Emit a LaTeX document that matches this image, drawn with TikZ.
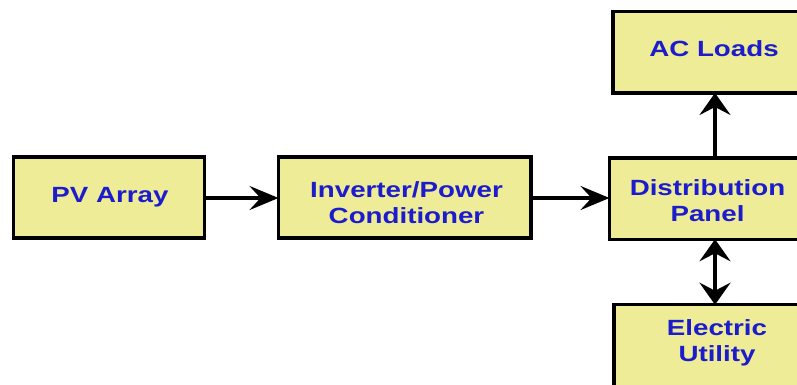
\documentclass[tikz,border=0pt]{standalone}
\usepackage{fontspec}
\setmainfont{Liberation Sans}
\usetikzlibrary{arrows.meta}
\definecolor{boxfill}{RGB}{238,236,150}
\definecolor{txtblue}{RGB}{28,28,205}
\newcommand{\lbl}[1]{\scalebox{1.26}[1]{\begin{tabular}{@{}c@{}}#1\end{tabular}}}
\tikzset{
  blk/.style={draw=black, fill=boxfill, line width=3.5pt, rectangle, inner sep=0pt, outer sep=0pt},
  txt/.style={text=txtblue, inner sep=0pt, font=\fontsize{22}{26}\selectfont\bfseries},
  hconn/.style={line width=3.4pt, -{Stealth[length=29pt,width=24pt,inset=11pt]}},
  vconn/.style={line width=4.2pt, -{Stealth[length=22pt,width=31pt,inset=8pt]}},
  vconn2/.style={line width=4.2pt, {Stealth[length=22pt,width=31pt,inset=8pt]}-{Stealth[length=22pt,width=31pt,inset=8pt]}}
}
\begin{document}
\begin{tikzpicture}[x=1pt,y=-1pt]
\useasboundingbox (0,0) rectangle (797,385);
\clip (0,0) rectangle (797,385);
\node[blk, minimum width=191pt, minimum height=81pt] (pv) at (109,197.5) {};
\node[blk, minimum width=252.5pt, minimum height=81pt] (inv) at (404.75,197.5) {};
\node[blk, minimum width=220.5pt, minimum height=81.5pt] (dist) at (719.75,198.5) {};
\node[blk, minimum width=217pt, minimum height=81.7pt] (ac) at (721.5,52.15) {};
\node[blk, minimum width=216pt, minimum height=82pt] (eu) at (722,345.7) {};
\node[txt] (pvt) at (110,196.8) {\lbl{PV Array}};
\node[txt] (invt) at (406.5,204.8) {\lbl{Inverter/Power\\Conditioner}};
\node[txt] (distt) at (707.5,202.8) {\lbl{Distribution\\Panel}};
\node[txt] (act) at (714,51.5) {\lbl{AC Loads}};
\node[txt] (eut) at (717,342.8) {\lbl{Electric\\Utility}};
\coordinate (vx) at (715,0);
\draw[hconn] (pv.east |- 0,198) -- (inv.west |- 0,198);
\draw[hconn] (inv.east |- 0,198) -- (dist.west |- 0,198);
\draw[vconn] (vx |- dist.north) -- (vx |- ac.south);
\draw[vconn2] (vx |- dist.south) -- (vx |- eu.north);
\end{tikzpicture}
\end{document}
